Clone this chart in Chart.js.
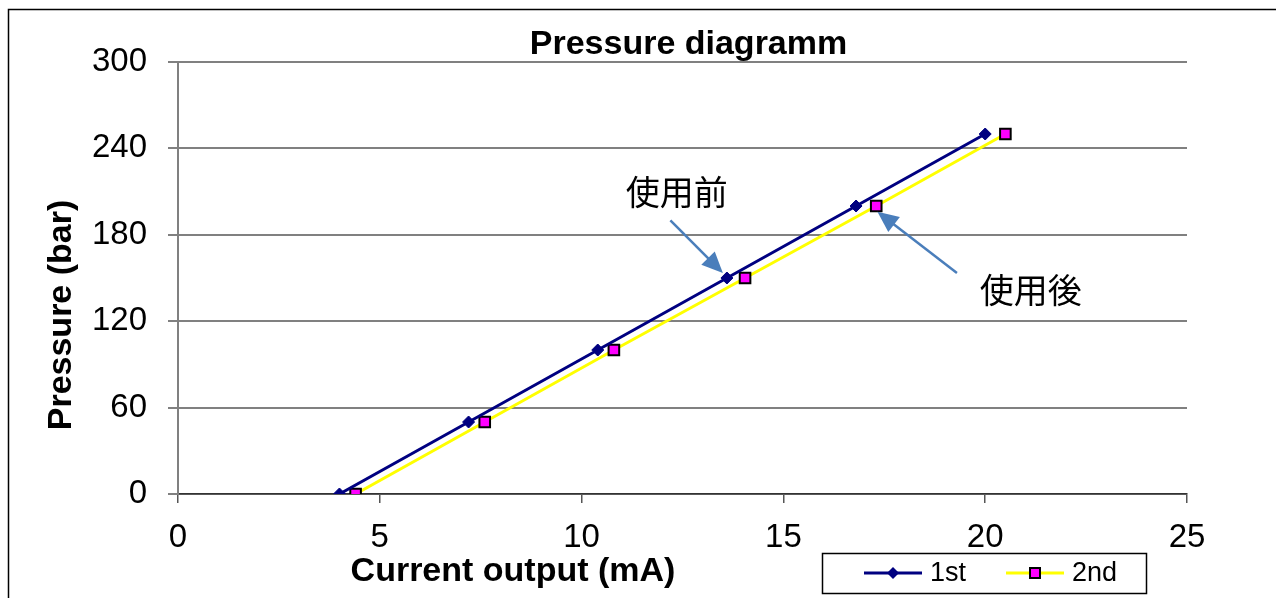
<!DOCTYPE html>
<html>
<head>
<meta charset="utf-8">
<script src="https://cdn.jsdelivr.net/npm/chart.js@4.4.1/dist/chart.umd.min.js"></script>
<style>
  html, body { margin: 0; padding: 0; background: #fff; }
</style>
</head>
<body>
<canvas id="grafico" width="1276" height="598"></canvas>
<script>
// valores
const current1st = [4.0, 7.2, 10.4, 13.6, 16.8, 20.0];
const current2nd = [4.4, 7.6, 10.8, 14.05, 17.3, 20.5];
const pressure = [0, 50, 100, 150, 200, 250];
const seriesNames = ["1st", "2nd"];
const xTicks = [0, 5, 10, 15, 20, 25];
const yTicks = [0, 60, 120, 180, 240, 300];
const titleText = "Pressure diagramm";
const xTitle = "Current output (mA)";
const yTitle = "Pressure (bar)";
const notes = ["使用前", "使用後"];

const FONT = "'Liberation Sans', Arial, sans-serif";
const CJK = "'Noto Sans CJK JP', 'Noto Sans CJK SC', sans-serif";
const arrowColor = "#4a7ebb";

// notas con flecha (en unidades de los ejes)
const notePlaces = [
  { text: notes[0], at: [12.36, 210], tail: [12.2, 190], tip: [13.5, 153.5] },
  { text: notes[1], at: [21.13, 141.5], tail: [19.3, 153.5], tip: [17.33, 196] },
];

function arrow(ctx, x1, y1, x2, y2) {
  const ang = Math.atan2(y2 - y1, x2 - x1);
  const len = 21, half = 9.5;
  ctx.save();
  ctx.strokeStyle = arrowColor;
  ctx.fillStyle = arrowColor;
  ctx.lineWidth = 2.5;
  ctx.beginPath();
  ctx.moveTo(x1, y1);
  ctx.lineTo(x2 - Math.cos(ang) * len * 0.8, y2 - Math.sin(ang) * len * 0.8);
  ctx.stroke();
  ctx.beginPath();
  ctx.moveTo(x2, y2);
  ctx.lineTo(x2 - Math.cos(ang) * len - Math.sin(ang) * half, y2 - Math.sin(ang) * len + Math.cos(ang) * half);
  ctx.lineTo(x2 - Math.cos(ang) * len + Math.sin(ang) * half, y2 - Math.sin(ang) * len - Math.cos(ang) * half);
  ctx.closePath();
  ctx.fill();
  ctx.restore();
}

const decor = {
  id: "decor",
  beforeDraw(chart) {
    const ctx = chart.ctx;
    ctx.save();
    ctx.fillStyle = "#fff";
    ctx.fillRect(0, 0, chart.width, chart.height);
    ctx.strokeStyle = "#000";
    ctx.lineWidth = 1.5;
    ctx.beginPath();
    ctx.moveTo(8.5, chart.height + 2);
    ctx.lineTo(8.5, 9.5);
    ctx.lineTo(chart.width + 2, 9.5);
    ctx.stroke();
    ctx.restore();
  },
  afterDraw(chart) {
    const { ctx, chartArea: a, scales: { x, y } } = chart;
    ctx.save();
    ctx.fillStyle = "#000";
    ctx.textAlign = "center";
    ctx.textBaseline = "middle";
    ctx.font = "bold 34px " + FONT;
    ctx.fillText(titleText, (a.left + a.right) / 2 + 6, 45);
    ctx.fillText(xTitle, 513, 572);
    ctx.save();
    ctx.translate(62, 315);
    ctx.rotate(-Math.PI / 2);
    ctx.fillText(yTitle, 0, 0);
    ctx.restore();

    // notas
    ctx.font = "34px " + CJK;
    notePlaces.forEach(n => {
      ctx.fillStyle = "#000";
      ctx.fillText(n.text, x.getPixelForValue(n.at[0]), y.getPixelForValue(n.at[1]));
      arrow(ctx,
        x.getPixelForValue(n.tail[0]), y.getPixelForValue(n.tail[1]),
        x.getPixelForValue(n.tip[0]), y.getPixelForValue(n.tip[1]));
    });

    // leyenda
    ctx.strokeStyle = "#000";
    ctx.lineWidth = 1.5;
    ctx.strokeRect(822.5, 553.5, 324, 40);
    const ly = 573;
    const starts = [864, 1006];
    ctx.font = "27px " + FONT;
    ctx.textAlign = "left";
    chart.data.datasets.forEach((ds, i) => {
      const lx = starts[i];
      ctx.strokeStyle = ds.borderColor;
      ctx.lineWidth = 3;
      ctx.beginPath();
      ctx.moveTo(lx, ly);
      ctx.lineTo(lx + 58, ly);
      ctx.stroke();
      const cx = lx + 29;
      if (i === 0) {
        ctx.fillStyle = ds.pointBackgroundColor;
        ctx.beginPath();
        ctx.moveTo(cx, ly - 6);
        ctx.lineTo(cx + 6, ly);
        ctx.lineTo(cx, ly + 6);
        ctx.lineTo(cx - 6, ly);
        ctx.closePath();
        ctx.fill();
      } else {
        ctx.fillStyle = ds.pointBackgroundColor;
        ctx.fillRect(cx - 5, ly - 5, 10, 10);
        ctx.strokeStyle = ds.pointBorderColor;
        ctx.lineWidth = 2;
        ctx.strokeRect(cx - 5, ly - 5, 10, 10);
      }
      ctx.fillStyle = "#000";
      ctx.fillText(ds.label, lx + 66, ly + 1);
    });
    ctx.restore();
  },
};

new Chart(document.getElementById("grafico"), {
  type: "scatter",
  data: {
    datasets: [
      {
        label: seriesNames[0],
        data: current1st.map((c, i) => ({ x: c, y: pressure[i] })),
        showLine: true,
        borderColor: "#000080",
        borderWidth: 3,
        pointStyle: "rectRot",
        pointRadius: 6,
        pointBackgroundColor: "#000080",
        pointBorderColor: "#000080",
        pointBorderWidth: 1,
      },
      {
        label: seriesNames[1],
        data: current2nd.map((c, i) => ({ x: c, y: pressure[i] })),
        showLine: true,
        borderColor: "#ffff00",
        borderWidth: 3,
        pointStyle: "rect",
        pointRadius: 7.5,
        pointBackgroundColor: "#ff00ff",
        pointBorderColor: "#000000",
        pointBorderWidth: 2,
      },
    ],
  },
  options: {
    responsive: false,
    animation: false,
    layout: { padding: { top: 62, right: 89, left: 0, bottom: 0 } },
    plugins: {
      legend: { display: false },
      title: { display: false },
      tooltip: { enabled: false },
    },
    scales: {
      x: {
        type: "linear",
        min: 0,
        max: 25,
        afterBuildTicks: (s) => { s.ticks = xTicks.map(v => ({ value: v })); },
        afterFit: (s) => { s.height = 104; },
        grid: { drawOnChartArea: false, drawTicks: true, tickLength: 9, color: "#555", lineWidth: 1.5 },
        border: { color: "#333", width: 1.5 },
        ticks: { color: "#000", padding: 15, font: { family: FONT, size: 33 } },
      },
      y: {
        type: "linear",
        min: 0,
        max: 300,
        afterBuildTicks: (s) => { s.ticks = yTicks.map(v => ({ value: v })); },
        afterFit: (s) => { s.width = 178; },
        grid: { color: "#808080", lineWidth: 2, tickLength: 10 },
        border: { color: "#808080", width: 2 },
        ticks: { color: "#000", padding: 21, font: { family: FONT, size: 33 } },
      },
    },
  },
  plugins: [decor],
});
</script>
</body>
</html>
